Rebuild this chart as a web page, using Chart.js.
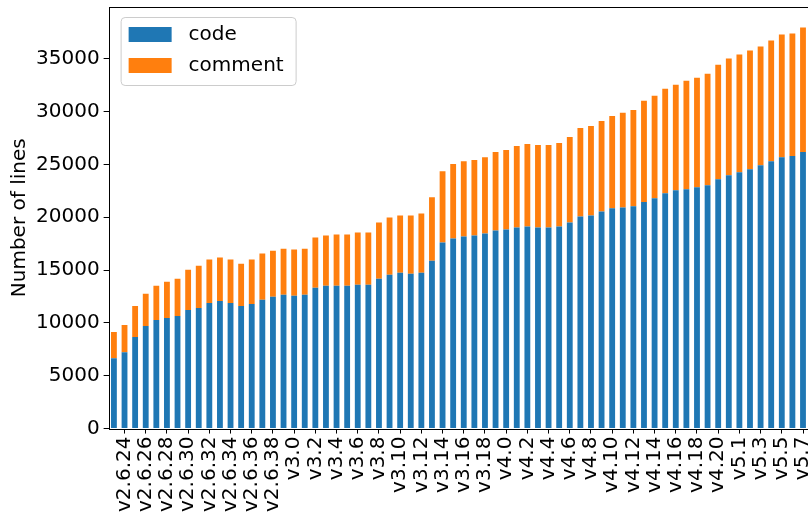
<!DOCTYPE html>
<html>
<head>
<meta charset="utf-8">
<script src="https://cdn.jsdelivr.net/npm/chart.js@4/dist/chart.umd.min.js"></script>
<style>
  html, body { margin: 0; padding: 0; overflow: hidden; background: #fff; }
</style>
</head>
<body>
<canvas id="linesChart" width="830" height="515"></canvas>
<script>
const VERSIONS = [
  "v2.6.23", "v2.6.24", "v2.6.25", "v2.6.26", "v2.6.27", "v2.6.28", "v2.6.29", "v2.6.30",
  "v2.6.31", "v2.6.32", "v2.6.33", "v2.6.34", "v2.6.35", "v2.6.36", "v2.6.37", "v2.6.38",
  "v2.6.39",
  "v3.0", "v3.1", "v3.2", "v3.3", "v3.4", "v3.5", "v3.6", "v3.7", "v3.8", "v3.9",
  "v3.10", "v3.11", "v3.12", "v3.13", "v3.14", "v3.15", "v3.16", "v3.17", "v3.18", "v3.19",
  "v4.0", "v4.1", "v4.2", "v4.3", "v4.4", "v4.5", "v4.6", "v4.7", "v4.8", "v4.9", "v4.10",
  "v4.11", "v4.12", "v4.13", "v4.14", "v4.15", "v4.16", "v4.17", "v4.18", "v4.19", "v4.20",
  "v5.0", "v5.1", "v5.2", "v5.3", "v5.4", "v5.5", "v5.6", "v5.7",
];

const CODE_LINES = [
  6660, 7230, 8660, 9700, 10280, 10470, 10660, 11230, 11420, 11890, 12080, 11890, 11610, 11800, 12180, 12470, 12660,
  12560, 12660, 13320, 13510, 13510, 13510, 13610, 13610, 14180, 14560, 14750, 14650, 14750, 15890, 17600, 17980,
  18170, 18270, 18460, 18750, 18840, 19030, 19130, 19030, 19030, 19130, 19510, 20080, 20170, 20550, 20840, 20930, 21030,
  21450, 21790, 22270, 22550, 22650, 22840, 23030, 23600, 23980, 24260, 24550, 24930, 25310, 25690, 25790, 26170,
];

const COMMENT_LINES = [
  2470, 2570, 2950, 3050, 3230, 3420, 3520, 3800, 3990, 4100, 4100, 4100, 3990, 4190, 4380, 4370, 4370,
  4380, 4370, 4760, 4760, 4850, 4850, 4940, 4940, 5330, 5420, 5420, 5520, 5610, 6000, 6760, 7050,
  7140, 7140, 7230, 7420, 7520, 7710, 7800, 7800, 7800, 7890, 8080, 8370, 8470, 8570, 8750, 8950, 9130,
  9570, 9710, 9890, 9990, 10270, 10370, 10560, 10840, 11040, 11140, 11230, 11230, 11420, 11610, 11600, 11800,
];

const Y_TICKS = [0, 5000, 10000, 15000, 20000, 25000, 30000, 35000];
const Y_MAX = 39900;

Chart.defaults.font.family = "'DejaVu Sans', sans-serif";
Chart.defaults.font.size = 20;
Chart.defaults.color = "#000";

// full box round the plot, like a matplotlib axes frame
const frame = {
  id: "frame",
  afterDatasetsDraw(chart) {
    const { ctx, chartArea: a } = chart;
    ctx.save();
    ctx.strokeStyle = "#000";
    ctx.lineWidth = 1;
    ctx.strokeRect(Math.round(a.left) + 0.5, Math.round(a.top) + 0.5,
      Math.round(a.right - a.left), Math.round(a.bottom - a.top));
    ctx.restore();
  },
};

// legend box in the upper left corner of the plot
const boxLegend = {
  id: "boxLegend",
  afterDraw(chart) {
    const { ctx, chartArea: a } = chart;
    const x = a.left + 12, y = a.top + 10, w = 175, h = 68, r = 4;
    ctx.save();
    ctx.beginPath();
    ctx.roundRect(x + 0.5, y + 0.5, w, h, r);
    ctx.fillStyle = "rgba(255,255,255,0.8)";
    ctx.fill();
    ctx.strokeStyle = "#cccccc";
    ctx.lineWidth = 1;
    ctx.stroke();
    ctx.font = "20px 'DejaVu Sans', sans-serif";
    ctx.textBaseline = "middle";
    chart.data.datasets.forEach((ds, i) => {
      const ry = y + 10 + i * 31;
      ctx.fillStyle = ds.backgroundColor;
      ctx.fillRect(x + 8, ry, 43, 15);
      ctx.fillStyle = "#000";
      ctx.fillText(ds.label, x + 68, ry + 8);
    });
    ctx.restore();
  },
};

const config = {
  type: "bar",
  data: {
    labels: VERSIONS,
    datasets: [
      { label: "code", data: CODE_LINES, backgroundColor: "#1f77b4" },
      { label: "comment", data: COMMENT_LINES, backgroundColor: "#ff7f0e" },
    ],
  },
  options: {
    responsive: false,
    animation: false,
    layout: { padding: { left: 8, top: 7, bottom: 0, right: 0 } },
    datasets: { bar: { categoryPercentage: 1, barPercentage: 0.55 } },
    plugins: { legend: { display: false }, tooltip: { enabled: false } },
    scales: {
      x: {
        stacked: true,
        border: { display: false },
        grid: {
          offset: false,
          drawOnChartArea: false,
          tickLength: 5,
          tickColor: (c) => (c.index % 2 === 1 ? "#000" : "rgba(0,0,0,0)"),
        },
        ticks: {
          autoSkip: false,
          minRotation: 90,
          maxRotation: 90,
          padding: 3,
          callback: (v, i) => (i % 2 === 1 ? VERSIONS[i] : ""),
        },
      },
      y: {
        stacked: true,
        min: 0,
        max: Y_MAX,
        border: { display: false },
        grid: { drawOnChartArea: false, tickLength: 5, tickColor: "#000" },
        afterBuildTicks: (s) => { s.ticks = Y_TICKS.map((v) => ({ value: v })); },
        // the top tick sits well below the frame, so no room is needed above it
        afterFit: (s) => { s.paddingTop = 0; },
        ticks: { padding: 4, callback: (v) => String(v) },
        title: { display: true, text: "Number of lines", padding: { top: 0, bottom: 0 } },
      },
    },
  },
  plugins: [frame, boxLegend],
};

new Chart(document.getElementById("linesChart").getContext("2d"), config);
</script>
</body>
</html>
